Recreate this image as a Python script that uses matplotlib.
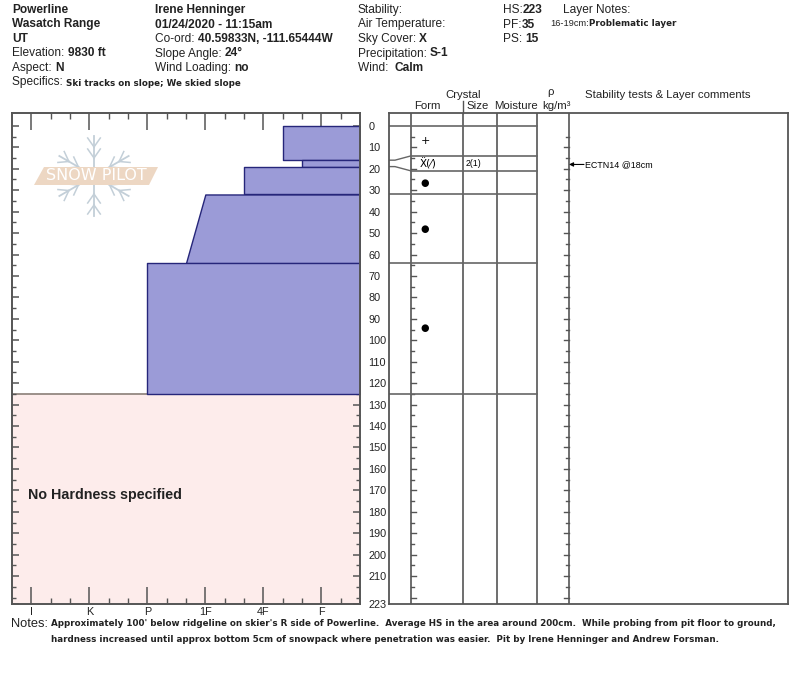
import numpy as np
import matplotlib
matplotlib.use("Agg")
import matplotlib.pyplot as plt
from matplotlib.patches import Polygon

plt.rcParams['font.family'] = ['Liberation Sans', 'DejaVu Sans']

# ---- pit data ----
layer_top = [0, 16, 19, 32, 64]
layer_bottom = [16, 19, 32, 64, 125]
hard_top = ['4F-', 'F+', '4F+', '1F', 'P']
hard_bottom = ['4F-', 'F+', '4F+', '1F+', 'P']
grain_form = ['+', 'Ẍ(⁄)', '●', '●', '●']
grain_size = ['', '2(1)', '', '', '']
total_depth = 223
no_hardness_top = 125

hardness_labels = ['I', 'K', 'P', '1F', '4F', 'F']
hardness_pos = [1, 4, 7, 10, 13, 16]

test_depth = [18]
test_text = ['ECTN14 @18cm']

depth_labels = list(range(0, 220, 10)) + [223]

W, H = 800, 676
EDGE = '#555555'
TXT = '#222222'
SMALL_BOLD = 'DejaVu Sans'


def hard_val(code):
    base = dict(zip(hardness_labels, hardness_pos))
    if code.endswith('+'):
        return base[code[:-1]] - 1
    if code.endswith('-'):
        return base[code[:-1]] + 1
    return base[code]


def fig_rect(x0, y0, x1, y1):
    return [x0 / W, 1 - y1 / H, (x1 - x0) / W, (y1 - y0) / H]


fig = plt.figure(figsize=(W / 100, H / 100), dpi=100)

# background axes for header/footer text (pixel coords)
bg = fig.add_axes([0, 0, 1, 1])
bg.set_xlim(0, W)
bg.set_ylim(H, 0)
bg.axis('off')


def label(x, y, plain, bold=None, size=8.6, bsize=None, bfamily=None):
    t = bg.text(x, y, plain, fontsize=size, va='bottom', ha='left', color=TXT)
    if bold:
        kw = {'family': bfamily} if bfamily else {}
        bg.annotate(bold, xy=(1, 0), xycoords=t, va='bottom', ha='left',
                    fontsize=bsize or size, fontweight='bold', color=TXT, **kw)
    return t


# header block
row_y = [16, 30.5, 45, 59.5, 74]
label(12, row_y[0], '', 'Powerline')
label(12, row_y[1], '', 'Wasatch Range')
label(12, row_y[2], '', 'UT')
label(12, row_y[3], 'Elevation: ', '9830 ft')
label(12, row_y[4], 'Aspect: ', 'N')
label(12, 88.5, 'Specifics: ', 'Ski tracks on slope; We skied slope', bsize=6.3,
      bfamily=SMALL_BOLD)

label(155, row_y[0], '', 'Irene Henninger')
label(155, row_y[1], '', '01/24/2020 - 11:15am')
label(155, row_y[2], 'Co-ord: ', '40.59833N, -111.65444W')
label(155, row_y[3], 'Slope Angle: ', '24°')
label(155, row_y[4], 'Wind Loading: ', 'no')

label(358, row_y[0], 'Stability:')
label(358, row_y[1], 'Air Temperature:')
label(358, row_y[2], 'Sky Cover: ', 'X')
label(358, row_y[3], 'Precipitation: ', 'S-1')
label(358, row_y[4], 'Wind:  ', 'Calm')

label(503, row_y[0], 'HS:', '223')
label(503, row_y[1], 'PF:', '35')
label(503, row_y[2], 'PS: ', '15')
label(563, row_y[0], 'Layer Notes:')
label(550, 28.5, '16-19cm:', 'Problematic layer', size=6.7, bsize=6.3, bfamily=SMALL_BOLD)

# column headers
hdr = dict(fontsize=8.2, color=TXT, va='center')
bg.text(463, 95, 'Crystal', ha='center', **hdr)
bg.text(427, 106, 'Form', ha='center', **hdr)
bg.text(478, 106, 'Size', ha='center', **hdr)
bg.text(516, 106, 'Moisture', ha='center', **hdr)
bg.text(551, 92, 'ρ', ha='center', **hdr)
bg.text(556, 106, 'kg/m³', ha='center', **hdr)
bg.text(585, 95, 'Stability tests & Layer comments', ha='left', **hdr)

# footer notes
bg.text(11, 630, 'Notes:', fontsize=9.3, va='bottom', ha='left', color=TXT)
note_kw = dict(fontsize=6.3, fontweight='bold', family=SMALL_BOLD, color=TXT,
               va='center', ha='left')
bg.text(51, 624, "Approximately 100' below ridgeline on skier's R side of Powerline.  "
        "Average HS in the area around 200cm.  While probing from pit floor to ground,",
        **note_kw)
bg.text(51, 639, 'hardness increased until approx bottom 5cm of snowpack where penetration '
        'was easier.  Pit by Irene Henninger and Andrew Forsman.', **note_kw)

# ---- hardness profile ----
ax = fig.add_axes(fig_rect(12, 113, 360, 604))
ax.set_xlim(0, 18)
ax.set_ylim(total_depth, -6)
ax.axhspan(no_hardness_top, total_depth, color='#fdeceb', zorder=0)
ax.axhline(no_hardness_top, color='#8a7f78', lw=1.2, zorder=1)
for t, b, ht, hb in zip(layer_top, layer_bottom, hard_top, hard_bottom):
    ax.fill_betweenx([t, b], [hard_val(ht), hard_val(hb)], 18,
                     facecolor='#9b9bd7', edgecolor='#26267a', lw=1, zorder=2)
ax.text(0.85, 172, 'No Hardness specified', fontsize=10.3, fontweight='bold',
        color=TXT, va='center', ha='left')

ax.set_xticks(hardness_pos)
ax.set_xticklabels(hardness_labels)
ax.set_xticks(np.arange(1, 18), minor=True)
ax.set_yticks(depth_labels)
ax.set_yticklabels([str(d) for d in depth_labels])
ax.set_yticks([d for d in range(5, 225, 5) if d not in depth_labels], minor=True)
ax.tick_params(axis='x', which='major', direction='in', length=12, width=1.1, color=EDGE,
               top=True, bottom=True, labelsize=7.8, labelcolor=TXT, pad=2)
ax.tick_params(axis='x', which='minor', direction='in', length=4, width=1, color=EDGE,
               top=True, bottom=True)
ax.tick_params(axis='y', which='major', direction='in', length=5, width=1.1, color=EDGE,
               left=True, right=True, labelleft=False, labelright=True,
               labelsize=7.8, labelcolor=TXT, pad=6)
ax.tick_params(axis='y', which='minor', direction='in', length=3, width=1, color=EDGE,
               left=True, right=True)
for s in ax.spines.values():
    s.set_color(EDGE)
    s.set_linewidth(1.4)
    s.set_zorder(5)

# SnowPilot watermark
lg = fig.add_axes(fig_rect(28, 134, 160, 218))
lg.set_xlim(-66, 66)
lg.set_ylim(-42, 42)
lg.axis('off')
flake = '#c3cfd8'
for ang in [90, 30, 150, 210, 270, 330]:
    a = np.deg2rad(ang)
    lg.plot([0, 40 * np.cos(a)], [0, 40 * np.sin(a)], color=flake, lw=1.3)
    for r in [18, 29]:
        for side in (-1, 1):
            b = a + side * np.deg2rad(35)
            px, py = r * np.cos(a), r * np.sin(a)
            lg.plot([px, px + 11 * np.cos(b)], [py, py + 11 * np.sin(b)], color=flake, lw=1.1)
lg.add_patch(Polygon([(-60, -9), (-50, 9), (64, 9), (55, -9)], closed=True,
                     facecolor='#edd7c3', edgecolor='none', zorder=3))
lg.text(2, 0, 'SNOW PILOT', color='white', fontsize=11.5, ha='center', va='center',
        family='DejaVu Sans', zorder=4)

# ---- layer table ----
ap = fig.add_axes(fig_rect(389, 113, 788, 604))
ap.set_xlim(0, 399)
ap.set_ylim(total_depth, -6)
ap.set_xticks([])
ap.set_yticks([])
for s in ap.spines.values():
    s.set_color(EDGE)
    s.set_linewidth(1.3)

col_x = [22, 74, 108, 148, 180]
for cx in col_x:
    ap.axvline(cx, color=EDGE, lw=1.2)
ap.plot([74, 74], [-6, -11.5], color=EDGE, lw=1, clip_on=False)

# depth ruler ticks on the form and stability columns
for d in range(5, total_depth, 5):
    ln = 5 if d % 10 == 0 else 3
    ap.plot([22, 22 + ln], [d, d], color=EDGE, lw=1)
    ap.plot([180 - ln, 180], [d, d], color=EDGE, lw=1)

# display layers (thin layers are widened around their midpoint)
min_disp = 7
disp_top, disp_bot = [], []
for t, b in zip(layer_top, layer_bottom):
    if b - t < min_disp:
        m = (t + b) / 2
        disp_top.append(m - min_disp / 2)
        disp_bot.append(m + min_disp / 2)
    else:
        disp_top.append(t)
        disp_bot.append(b)
for i in range(len(layer_top)):
    if i > 0:
        disp_top[i] = max(disp_top[i], disp_bot[i - 1])
    if i < len(layer_top) - 1 and layer_bottom[i + 1] - layer_top[i + 1] < min_disp:
        disp_bot[i] = (layer_top[i + 1] + layer_bottom[i + 1]) / 2 - min_disp / 2

true_b = [layer_top[0]] + layer_bottom
disp_b = [disp_top[0]] + disp_top[1:] + [disp_bot[-1]]
for tb, db in zip(true_b, disp_b):
    if tb == db:
        ap.plot([0, 148], [tb, tb], color='#666666', lw=1.2)
    else:
        ap.plot([0, 6, 22], [tb, tb, db], color='#666666', lw=1)
        ap.plot([22, 148], [db, db], color='#666666', lw=1.2)

for i, (g, sz) in enumerate(zip(grain_form, grain_size)):
    y = (disp_top[i] + disp_bot[i]) / 2
    if len(g) > 1:
        ap.text(31, y, g, fontsize=7.5, ha='left', va='center', color='black',
                family='DejaVu Sans')
    else:
        ap.text(36, y, g, fontsize=8 if g == '+' else 7, ha='center', va='center',
                color='black', family='DejaVu Sans')
    if sz:
        ap.text(77, y, sz, fontsize=6.3, ha='left', va='center', color='black')

for d, txt in zip(test_depth, test_text):
    ap.annotate('', xy=(180, d), xytext=(195, d),
                arrowprops=dict(arrowstyle='-|>', color='black', lw=0.8,
                                mutation_scale=6, shrinkA=0, shrinkB=0))
    ap.text(196, d, txt, fontsize=6.4, ha='left', va='center', color='black')

fig.savefig('out.png', dpi=100)
